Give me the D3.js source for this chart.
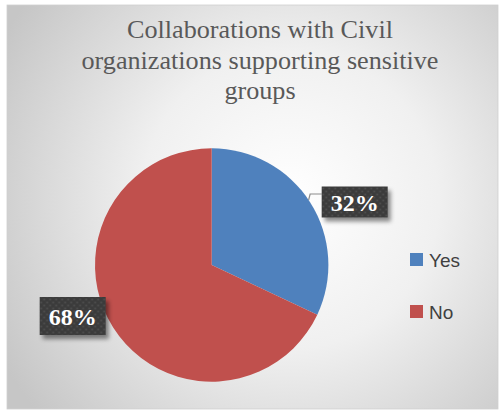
<!DOCTYPE html>
<html><head><meta charset="utf-8">
<script src="https://cdn.jsdelivr.net/npm/d3@7"></script>
<style>html,body{margin:0;padding:0;background:#fff;overflow:hidden}</style>
</head><body>
<svg id="chart" width="501" height="410"></svg>
<script>
const categories = ["Yes", "No"];
const values = [32, 68];
const dataLabels = ["32%", "68%"];
const colors = ["#4F81BD", "#C0504D"];
const titleLines = ["Collaborations with Civil", "organizations supporting sensitive", "groups"];

const SERIF = '"Liberation Serif"';
const SANS = '"Liberation Sans"';

const svg = d3.select("#chart");
const defs = svg.append("defs");

const grad = defs.append("radialGradient").attr("id", "bg")
  .attr("gradientUnits", "userSpaceOnUse")
  .attr("cx", 290).attr("cy", 200).attr("r", 330);
grad.append("stop").attr("offset", "0%").attr("stop-color", "#ffffff");
grad.append("stop").attr("offset", "45%").attr("stop-color", "#f0f0f0");
grad.append("stop").attr("offset", "100%").attr("stop-color", "#c6c6c6");

const pat = defs.append("pattern").attr("id", "dots")
  .attr("patternUnits", "userSpaceOnUse").attr("width", 6).attr("height", 6);
pat.append("rect").attr("width", 6).attr("height", 6).attr("fill", "#3b3b3b");
pat.append("circle").attr("cx", 1.5).attr("cy", 1.5).attr("r", 0.9).attr("fill", "#515151");
pat.append("circle").attr("cx", 4.5).attr("cy", 4.5).attr("r", 0.9).attr("fill", "#515151");

const sh = defs.append("filter").attr("id", "shadow").attr("x", "-30%").attr("y", "-30%").attr("width", "160%").attr("height", "160%");
sh.append("feDropShadow").attr("dx", 3).attr("dy", 4).attr("stdDeviation", 2).attr("flood-color", "#000").attr("flood-opacity", 0.45);

svg.append("rect").attr("x", 7).attr("y", 5).attr("width", 491).attr("height", 404)
  .attr("fill", "url(#bg)").attr("stroke", "#d0d0d0").attr("stroke-width", 0.8);

// title
const title = svg.append("text").style("font-family", SERIF).attr("text-anchor", "middle")
  .style("font-size", "23px").attr("fill", "#595959");
const spans = titleLines.map((t, i) =>
  title.append("tspan").attr("x", 260).attr("y", 38 + i * 30.5).text(t));
const targetW = 357;
const w0 = spans[1].node().getComputedTextLength();
if (w0 > 0) title.style("font-size", (23 * targetW / w0) + "px");

// pie
const cx = 211.7, cy = 265, R = 116.7;
const pie = d3.pie().sort(null).value(d => d)(values);
const arc = d3.arc().innerRadius(0).outerRadius(R);
const g = svg.append("g").attr("transform", `translate(${cx},${cy})`);
g.selectAll("path.slice").data(pie).join("path").attr("class", "slice")
  .attr("d", arc).attr("fill", (d, i) => colors[i]);

const labelLayout = [
  { dx: 143, dy: -63, w: 66, h: 31 },
  { dx: -139, dy: 51, w: 66, h: 38 }
];
const edgeY = -65;
const edgeX = Math.sqrt(R * R - edgeY * edgeY);
g.append("polyline")
  .attr("points", `${edgeX},${edgeY} ${edgeX + 1.5},${edgeY - 6} ${labelLayout[0].dx - labelLayout[0].w / 2},${edgeY - 6}`)
  .attr("fill", "none").attr("stroke", "#8c8c8c").attr("stroke-width", 1.2);

pie.forEach((d, i) => {
  const L = labelLayout[i];
  const lg = g.append("g").attr("transform", `translate(${L.dx},${L.dy})`);
  lg.append("rect").attr("x", -L.w / 2).attr("y", -L.h / 2).attr("width", L.w).attr("height", L.h)
    .attr("fill", "url(#dots)").attr("filter", "url(#shadow)");
  lg.append("text").style("font-family", SERIF).attr("text-anchor", "middle").attr("y", 8.5)
    .style("font-weight", "bold").style("font-size", "24px").attr("fill", "#ffffff")
    .text(dataLabels[i]);
});

const leg = svg.append("g").attr("transform", "translate(410,253)");
categories.forEach((c, i) => {
  const row = leg.append("g").attr("transform", `translate(0,${i * 52})`);
  row.append("rect").attr("width", 13).attr("height", 13).attr("fill", colors[i]);
  row.append("text").style("font-family", SANS).attr("x", 19).attr("y", 13.5)
    .style("font-size", "19px").attr("fill", "#404040").text(c);
});
</script>
</body></html>
